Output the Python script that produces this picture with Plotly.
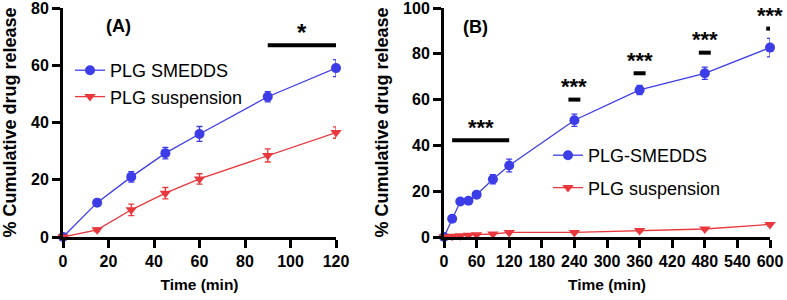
import plotly.graph_objects as go

# ---------------- data ----------------
time_a = [0, 15, 30, 45, 60, 90, 120]
smedds_a = [0, 12, 21, 29.3, 36, 49, 59]
smedds_a_err = [0.5, 1, 1.8, 2, 2.6, 1.8, 3]
susp_a = [0, 2.5, 9.5, 15.3, 20.3, 28.5, 36.5]
susp_a_err = [0.3, 0.6, 2, 2, 1.8, 2.3, 2]

time_b = [0, 15, 30, 45, 60, 90, 120, 240, 360, 480, 600]
smedds_b = [0, 8, 15.5, 15.8, 18.5, 25.2, 31.2, 51, 64.2, 71.5, 82.7]
smedds_b_err = [0.5, 1, 1, 1, 1, 2, 2.8, 2.7, 2, 2.7, 4]
susp_b = [0, 0.3, 0.5, 0.8, 1, 1.3, 2, 2, 2.8, 3.5, 5.5]
susp_b_err = [0.2, 0.2, 0.2, 0.3, 0.3, 0.3, 0.4, 0.4, 0.5, 0.5, 0.6]

xticks_a = [0, 20, 40, 60, 80, 100, 120]
yticks_a = [0, 20, 40, 60, 80]
xticks_b = [0, 60, 120, 180, 240, 300, 360, 420, 480, 540, 600]
yticks_b = [0, 20, 40, 60, 80, 100]

# significance bars: (x0, x1, y, label)
sig_a = [(90, 120, 67, "*")]
sig_b = [(15, 120, 42.3, "***"), (229, 251, 60, "***"), (349, 371, 71.5, "***"),
         (469, 491, 80.5, "***"), (593, 607, 91, "***")]

BLUE = "#3d3de8"
RED = "#e8383d"

fig = go.Figure()

def add_series(x, y, err, name, color, symbol, xa, ya, legend, group):
    fig.add_trace(go.Scatter(
        x=x, y=y, name=name, mode="lines+markers",
        line=dict(color=color, width=1.3),
        marker=dict(color=color, symbol=symbol, size=10 if symbol == "circle" else 10),
        error_y=dict(type="data", array=err, color=color, thickness=1.3, width=3),
        xaxis=xa, yaxis=ya, legend=legend, legendgroup=group, cliponaxis=False))

add_series(time_a, smedds_a, smedds_a_err, "PLG SMEDDS", BLUE, "circle", "x", "y", "legend", "a1")
add_series(time_a, susp_a, susp_a_err, "PLG suspension", RED, "triangle-down", "x", "y", "legend", "a2")
add_series(time_b, smedds_b, smedds_b_err, "PLG-SMEDDS", BLUE, "circle", "x2", "y2", "legend2", "b1")
add_series(time_b, susp_b, susp_b_err, "PLG suspension", RED, "triangle-down", "x2", "y2", "legend2", "b2")

FAM = "Liberation Sans, Arial, sans-serif"
tickfont = dict(family=FAM, size=16, color="black", weight="bold")
xtitlefont = dict(family=FAM, size=15.5, color="black", weight="bold")
ytitlefont = dict(family=FAM, size=18, color="black", weight="bold")

common_axis = dict(showgrid=False, zeroline=False, showline=True, linecolor="black",
                   linewidth=3, ticks="outside", ticklen=8, tickwidth=3, tickcolor="black",
                   tickfont=tickfont, automargin=False, tickangle=0)

ML, MR, MT, MB = 63, 17, 8, 63
PW = 787 - ML - MR
PH = 300 - MT - MB

def dx(px):
    return (px - ML) / PW

def dy(py):
    return (300 - MB - py) / PH

fig.update_layout(
    width=787, height=300,
    margin=dict(l=ML, r=MR, t=MT, b=MB, autoexpand=False),
    paper_bgcolor="white", plot_bgcolor="white",
    xaxis=dict(domain=[0, dx(336)], range=[0, 120], tickvals=xticks_a,
               title=dict(text="Time (min)", font=xtitlefont, standoff=10), anchor="y", **common_axis),
    yaxis=dict(domain=[0, 1], range=[0, 80], tickvals=yticks_a,
               title=dict(text="% Cumulative drug release", font=ytitlefont, standoff=10), anchor="x", **common_axis),
    xaxis2=dict(domain=[dx(444), 1], range=[0, 600], tickvals=xticks_b,
                title=dict(text="Time (min)", font=xtitlefont, standoff=10), anchor="y2", **common_axis),
    yaxis2=dict(domain=[0, 1], range=[0, 100], tickvals=yticks_b,
                title=dict(text="% Cumulative drug release", font=ytitlefont, standoff=10), anchor="x2", **common_axis),
    legend=dict(x=dx(70), y=dy(52),
                xanchor="left", yanchor="top", bgcolor="rgba(0,0,0,0)",
                font=dict(family=FAM, size=18, color="black"),
                itemwidth=30, tracegroupgap=0),
    legend2=dict(x=dx(548), y=dy(137),
                 xanchor="left", yanchor="top", bgcolor="rgba(0,0,0,0)",
                 font=dict(family=FAM, size=18, color="black"),
                 itemwidth=30, tracegroupgap=6),
    showlegend=True,
)

fig.add_annotation(text="(A)", xref="paper", yref="paper", x=dx(104), y=dy(14),
                   showarrow=False, font=dict(family=FAM, size=18, color="black", weight="bold"))
fig.add_annotation(text="(B)", xref="paper", yref="paper", x=dx(475), y=dy(15),
                   showarrow=False, font=dict(family=FAM, size=18, color="black", weight="bold"))

for (x0, x1, y, lab) in sig_a:
    fig.add_shape(type="line", xref="x", yref="y", x0=x0, x1=x1, y0=y, y1=y,
                  line=dict(color="black", width=4))
    fig.add_annotation(text=lab, xref="x", yref="y", x=(x0 + x1) / 2, y=y, yshift=13,
                       showarrow=False, font=dict(family=FAM, size=24, color="black", weight="bold"))
for (x0, x1, y, lab) in sig_b:
    fig.add_shape(type="line", xref="x2", yref="y2", x0=x0, x1=x1, y0=y, y1=y,
                  line=dict(color="black", width=4))
    fig.add_annotation(text=lab, xref="x2", yref="y2", x=(x0 + x1) / 2, y=y, yshift=13,
                       showarrow=False, font=dict(family=FAM, size=22, color="black", weight="bold"))

fig.write_html("out.html", config={"displayModeBar": False},
               post_script="document.body.style.margin='0px';")
